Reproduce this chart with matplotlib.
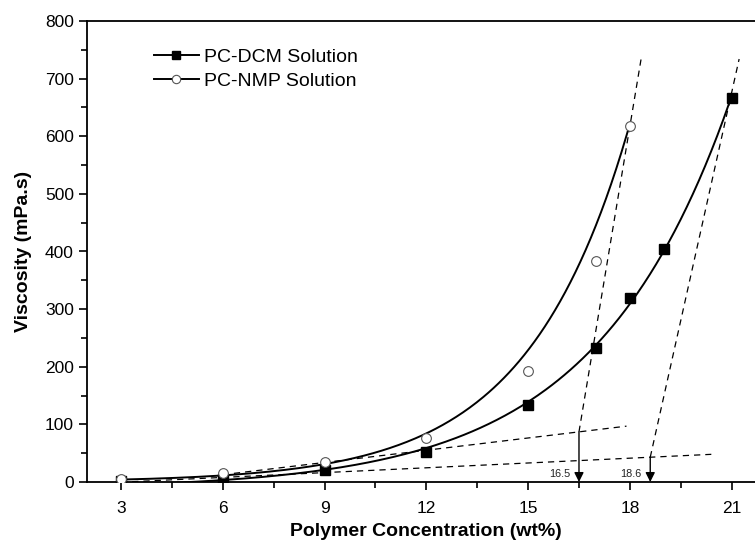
import numpy as np
import matplotlib
matplotlib.use("Agg")
import matplotlib.pyplot as plt
from matplotlib.ticker import MultipleLocator

plt.rcParams['font.family'] = ['Liberation Sans', 'DejaVu Sans']

# Measured viscosity data (mPa.s) versus polymer concentration (wt%)
conc_dcm = [3, 6, 9, 12, 15, 17, 18, 19, 21]
visc_dcm = [1, 5, 20, 52, 133, 233, 320, 405, 666]

conc_nmp = [3, 6, 9, 12, 15, 17, 18]
visc_nmp = [6, 15, 35, 77, 192, 384, 618]

# Exponential growth fit for the NMP series: y = A * exp(B * x)
nmp_fit_a = 1.55
nmp_fit_b = 0.333

# Tangent construction: dilute-regime lines and steep-regime lines
crit_nmp = 16.5
crit_dcm = 18.6
low_nmp_x = [6.0, 17.9]
low_nmp_slope = 7.08
low_nmp_at_crit = 87.0
low_dcm_x = [3.0, 20.4]
low_dcm_slope = 2.78
low_dcm_at_crit = 43.0
steep_nmp_top = (18.35, 741.0)
steep_dcm_top = (21.22, 734.0)


def exp_fit(x, y):
    """Least-squares fit of y = y0 + A*exp(B*x)."""
    x = np.asarray(x, float)
    y = np.asarray(y, float)
    best = None
    for b in np.linspace(0.05, 1.0, 4000):
        M = np.column_stack([np.ones_like(x), np.exp(b * x)])
        coef, *_ = np.linalg.lstsq(M, y, rcond=None)
        r = np.sum((M @ coef - y) ** 2)
        if best is None or r < best[0]:
            best = (r, coef[0], coef[1], b)
    _, y0, a, b = best
    return lambda t: y0 + a * np.exp(b * t)


fig = plt.figure(figsize=(7.55, 5.46), dpi=100)
ax = fig.add_axes([87 / 755, 64 / 546, 678.6 / 755, 461 / 546])

# Fitted curves
f_dcm = exp_fit(conc_dcm, visc_dcm)
xd = np.linspace(conc_dcm[0], conc_dcm[-1], 300)
xn = np.linspace(conc_nmp[0], conc_nmp[-1], 300)
ax.plot(xd, f_dcm(xd), color='black', lw=1.4, zorder=3)
ax.plot(xn, nmp_fit_a * np.exp(nmp_fit_b * xn), color='black', lw=1.4, zorder=3)

# Data markers
ax.plot(conc_dcm, visc_dcm, ls='none', marker='s', ms=6.5, mfc='black',
        mec='black', zorder=4)
ax.plot(conc_nmp, visc_nmp, ls='none', marker='o', ms=7, mfc='white',
        mec='#555555', mew=0.8, zorder=4)

# Dashed tangent lines
dash = dict(color='black', lw=0.9, ls=(0, (5, 4)), zorder=2)
lx = np.array(low_nmp_x)
ax.plot(lx, low_nmp_at_crit + low_nmp_slope * (lx - crit_nmp), **dash)
lx = np.array(low_dcm_x)
ax.plot(lx, low_dcm_at_crit + low_dcm_slope * (lx - crit_dcm), **dash)
ax.plot([crit_nmp, steep_nmp_top[0]], [low_nmp_at_crit, steep_nmp_top[1]], **dash)
ax.plot([crit_dcm, steep_dcm_top[0]], [low_dcm_at_crit, steep_dcm_top[1]], **dash)

# Arrows down to the critical concentrations
for xc, yc in [(crit_nmp, low_nmp_at_crit), (crit_dcm, low_dcm_at_crit)]:
    ax.annotate('', xy=(xc, 0), xytext=(xc, yc),
                arrowprops=dict(arrowstyle='-|>', color='black', lw=1.0,
                                mutation_scale=14, shrinkA=0, shrinkB=0),
                zorder=5)
    ax.text(xc - 0.25, 5, f'{xc:g}', ha='right', va='bottom', fontsize=7.8,
            color='#222222')

ax.set_xlim(2, 22)
ax.set_ylim(0, 800)
ax.xaxis.set_major_locator(MultipleLocator(3))
ax.xaxis.set_minor_locator(MultipleLocator(1.5))
ax.yaxis.set_major_locator(MultipleLocator(100))
ax.yaxis.set_minor_locator(MultipleLocator(50))
ax.tick_params(which='both', direction='out', width=1.2, labelsize=12.5,
               top=False, right=False)
ax.tick_params(axis='x', which='major', pad=8)
ax.tick_params(which='major', length=6)
ax.tick_params(which='minor', length=4)
for s in ax.spines.values():
    s.set_linewidth(1.3)

ax.set_xlabel('Polymer Concentration (wt%)', fontsize=14, fontweight='bold',
              labelpad=5)
ax.set_ylabel('Viscosity (mPa.s)', fontsize=14, fontweight='bold', labelpad=9)

h1, = ax.plot([], [], color='black', lw=1.4, marker='s', ms=5.5, mfc='black')
h2, = ax.plot([], [], color='black', lw=1.4, marker='o', ms=6, mfc='white',
              mec='#555555', mew=0.8)
ax.legend([h1, h2], ['PC-DCM Solution', 'PC-NMP Solution'], loc='upper left',
          bbox_to_anchor=(0.073, 0.978), frameon=False, fontsize=14,
          handlelength=2.3, handletextpad=0.25, labelspacing=0.32)

fig.savefig('out.png', dpi=100)
